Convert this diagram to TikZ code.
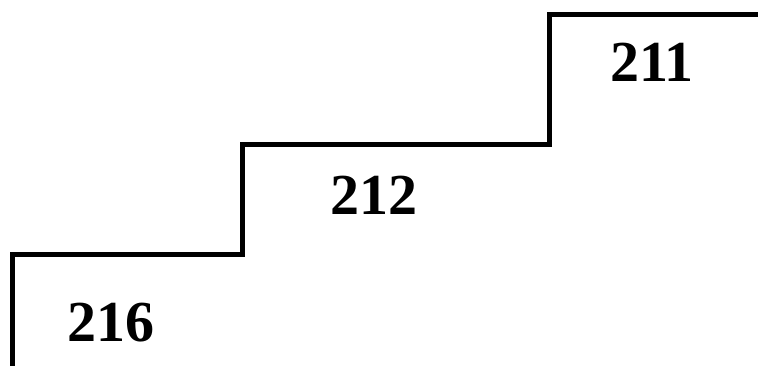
\documentclass[tikz,border=0pt]{standalone}
\usepackage{fontspec}
\setmainfont{Liberation Serif}
\begin{document}
\begin{tikzpicture}[x=1pt,y=1pt]
\useasboundingbox (0,0) rectangle (758,366);
\coordinate (s0) at (12.5,-5);
\coordinate (s1) at (12.5,111.5);
\coordinate (s2) at (242.5,111.5);
\coordinate (s3) at (242.5,221.5);
\coordinate (s4) at (549.5,221.5);
\coordinate (s5) at (549.5,351.5);
\coordinate (s6) at (765,351.5);

\node[font=\fontsize{58}{60}\selectfont\bfseries] (216) at (111,43) {216};
\node[font=\fontsize{58}{60}\selectfont\bfseries] (212) at (373.5,171) {212};
\node[font=\fontsize{58}{60}\selectfont\bfseries] (211) at (652,304) {211};

\path[draw,line width=5pt,-] (s0) -- (s1) -- (s2) -- (s3) -- (s4) -- (s5) -- (s6);
\end{tikzpicture}
\end{document}
